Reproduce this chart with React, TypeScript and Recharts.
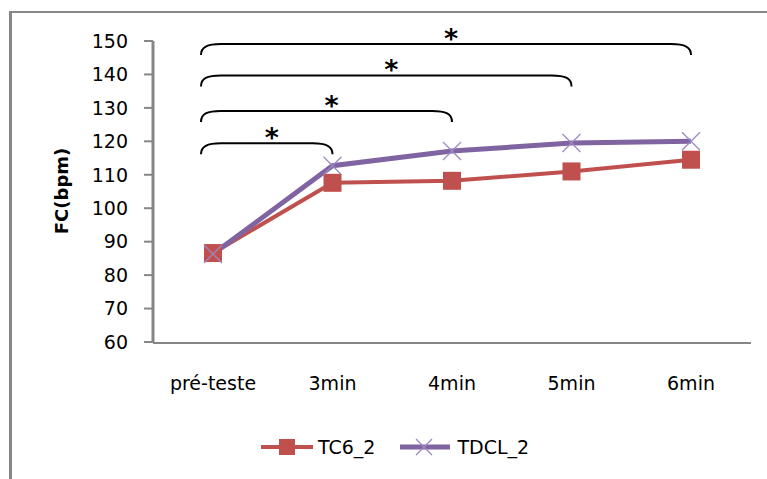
import { Legend, Line, LineChart, ReferenceLine, XAxis, YAxis } from "recharts";

const categories = ["pré-teste", "3min", "4min", "5min", "6min"];
const tc6Values = [86.6, 107.6, 108.2, 111.0, 114.5];
const tdclValues = [86.3, 112.7, 117.1, 119.5, 120.0];
const yTicks = [60, 70, 80, 90, 100, 110, 120, 130, 140, 150];
const gridTicks = [0, 1, 2, 3, 4, 5];

// significance brackets: from / to category and height (in bpm)
const bracketFrom = ["pré-teste", "pré-teste", "pré-teste", "pré-teste"];
const bracketTo = ["3min", "4min", "5min", "6min"];
const bracketLevel = [119.4, 129.1, 139.7, 149.1];

const data = categories.map((name, i) => ({
  name,
  tc6: tc6Values[i],
  tdcl: tdclValues[i],
}));

const RED = "#C0504D";
const PURPLE = "#8064A2";
const AXIS = "#868686";
const FONT = "'DejaVu Sans', sans-serif";

function Brace(props: any) {
  const { x1, y1, x2 } = props;
  const left = x1 - 12;
  const right = x2;
  const top = y1;
  const d = `M${left},${top + 11} C${left},${top + 3} ${left + 6},${top} ${left + 20},${top} L${right - 20},${top} C${right - 6},${top} ${right},${top + 3} ${right},${top + 11}`;
  return (
    <g>
      <path d={d} fill="none" stroke="#000" strokeWidth={2} />
      <text
        x={(left + right) / 2 + 5}
        y={top + 4}
        textAnchor="middle"
        fontFamily={FONT}
        fontWeight="bold"
        fontSize={27}
        fill="#000"
      >
        *
      </text>
    </g>
  );
}

function SquareDot(props: any) {
  const { cx, cy } = props;
  if (cx == null || cy == null) return null;
  return <rect x={cx - 9} y={cy - 9} width={18} height={18} fill={RED} />;
}

function CrossDot(props: any) {
  const { cx, cy } = props;
  if (cx == null || cy == null) return null;
  return (
    <g stroke="#9C88C2" strokeWidth={1.3}>
      <line x1={cx - 9} y1={cy - 9} x2={cx + 9} y2={cy + 9} />
      <line x1={cx - 9} y1={cy + 9} x2={cx + 9} y2={cy - 9} />
    </g>
  );
}

function LegendContent() {
  return (
    <div
      style={{
        display: "flex",
        alignItems: "center",
        paddingLeft: 260,
        fontFamily: FONT,
        fontSize: 19,
        color: "#000",
        height: 30,
      }}
    >
      <svg width={54} height={20}>
        <line x1={1} y1={10} x2={53} y2={10} stroke={RED} strokeWidth={4} />
        <rect x={19} y={2} width={16} height={16} fill={RED} />
      </svg>
      <span style={{ marginLeft: 4, marginRight: 24 }}>TC6_2</span>
      <svg width={52} height={20}>
        <line x1={1} y1={10} x2={51} y2={10} stroke={PURPLE} strokeWidth={5} />
        <line x1={17} y1={2} x2={33} y2={18} stroke="#9C88C2" strokeWidth={1.2} />
        <line x1={17} y1={18} x2={33} y2={2} stroke="#9C88C2" strokeWidth={1.2} />
      </svg>
      <span style={{ marginLeft: 6 }}>TDCL_2</span>
    </div>
  );
}

export default function App() {
  return (
    <div
      style={{
        position: "absolute",
        left: 0,
        top: 0,
        width: 767,
        height: 479,
        overflow: "hidden",
        background: "#fff",
      }}
    >
      <LineChart
        width={767}
        height={479}
        data={data}
        margin={{ top: 41, right: 16, bottom: 105, left: 0 }}
      >
        <XAxis
          dataKey="name"
          height={1}
          padding={{ left: 60, right: 60 }}
          axisLine={false}
          tickLine={false}
          tickSize={0}
          tickMargin={35}
          tick={{ fill: "#000", fontSize: 19, fontFamily: FONT }}
          interval={0}
        />
        <XAxis
          xAxisId="grid"
          type="number"
          domain={[0, 5]}
          ticks={gridTicks}
          allowDataOverflow
          height={1}
          tick={false}
          tickSize={9}
          axisLine={{ stroke: AXIS, strokeWidth: 2 }}
          tickLine={{ stroke: AXIS, strokeWidth: 2 }}
        />
        <YAxis
          width={153}
          domain={[60, 150]}
          ticks={yTicks}
          interval={0}
          tickSize={9}
          tickMargin={16}
          axisLine={{ stroke: AXIS, strokeWidth: 3 }}
          tickLine={{ stroke: AXIS, strokeWidth: 2 }}
          tick={{ fill: "#000", fontSize: 19, fontFamily: FONT }}
          label={({ viewBox }: any) => (
            <text
              x={0}
              y={0}
              transform={`translate(${(viewBox?.x ?? 0) + 61}, 191) rotate(-90)`}
              textAnchor="middle"
              dominantBaseline="central"
              fontFamily={FONT}
              fontWeight="bold"
              fontSize={18}
              fill="#000"
            >
              FC(bpm)
            </text>
          )}
        />
        <Legend
          verticalAlign="bottom"
          content={<LegendContent />}
          wrapperStyle={{ top: 432, bottom: "auto", left: 0, width: 767, height: 30 }}
        />
        <Line
          dataKey="tc6"
          name="TC6_2"
          stroke={RED}
          strokeWidth={4}
          dot={<SquareDot />}
          activeDot={false}
          isAnimationActive={false}
        />
        <Line
          dataKey="tdcl"
          name="TDCL_2"
          stroke={PURPLE}
          strokeWidth={5}
          dot={<CrossDot />}
          activeDot={false}
          isAnimationActive={false}
        />
        {bracketTo.map((to, i) => (
          <ReferenceLine
            key={to}
            ifOverflow="visible"
            segment={[
              { x: bracketFrom[i], y: bracketLevel[i] },
              { x: to, y: bracketLevel[i] },
            ]}
            shape={(p: any) => <Brace {...p} />}
          />
        ))}
      </LineChart>
      <div
        style={{
          position: "absolute",
          left: 9,
          top: 11,
          width: 800,
          height: 500,
          borderLeft: `3px solid ${AXIS}`,
          borderTop: `2px solid ${AXIS}`,
          pointerEvents: "none",
        }}
      />
    </div>
  );
}
